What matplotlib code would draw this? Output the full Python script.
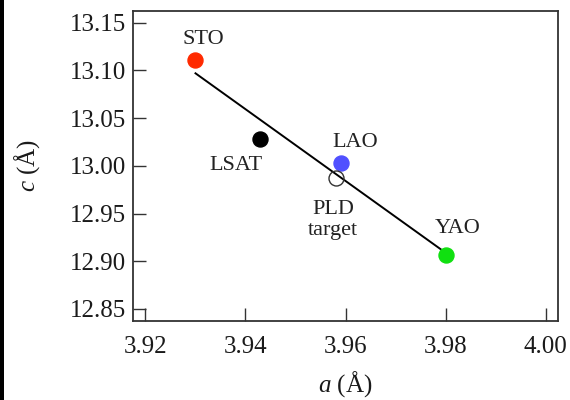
import matplotlib
matplotlib.use("Agg")
import matplotlib.pyplot as plt
from matplotlib.patches import Rectangle

plt.rcParams['font.family'] = ['Liberation Serif', 'DejaVu Serif']
plt.rcParams['mathtext.fontset'] = 'custom'
plt.rcParams['mathtext.it'] = 'Liberation Serif:italic'
plt.rcParams['mathtext.rm'] = 'Liberation Serif'

# Substrate / target lattice parameters
names = ["STO", "LSAT", "LAO", "PLD\ntarget", "YAO"]
a_vals = [3.930, 3.943, 3.959, 3.958, 3.980]
c_vals = [13.111, 13.028, 13.003, 12.987, 12.907]
face_colors = ["#ff2a00", "#000000", "#5050ff", "none", "#10e010"]
edge_colors = ["#ff2a00", "#000000", "#5050ff", "#333333", "#10e010"]

# Linear trend line
fit_a = [3.930, 3.980]
fit_c = [13.097, 12.909]

# Label anchor positions (data coordinates)
label_a = [3.9315, 3.9380, 3.9619, 3.9575, 3.9825]
label_c = [13.1329, 13.0008, 13.0246, 12.9428, 12.9345]

x_ticks = [3.92, 3.94, 3.96, 3.98, 4.00]
y_ticks = [12.85, 12.90, 12.95, 13.00, 13.05, 13.10, 13.15]

fig = plt.figure(figsize=(5.7, 4.0), dpi=100)
ax = fig.add_axes([0.2333, 0.1975, 0.979 - 0.2333, 0.9725 - 0.1975])

ax.plot(fit_a, fit_c, color="black", lw=1.4, zorder=2)
for a, c, fc, ec in zip(a_vals, c_vals, face_colors, edge_colors):
    ax.plot([a], [c], "o", ms=10.8, mfc=fc, mec=ec, mew=1.0, zorder=3)

for name, la, lc in zip(names, label_a, label_c):
    ax.text(la, lc, name, ha="center", va="center", fontsize=16,
            multialignment="center", linespacing=1.15, color="#222222")

ax.set_xlim(3.9175, 4.0025)
ax.set_ylim(12.8374, 13.1623)
ax.set_xticks(x_ticks)
ax.set_xticklabels([f"{v:.2f}" for v in x_ticks])
ax.set_yticks(y_ticks)
ax.set_yticklabels([f"{v:.2f}" for v in y_ticks])
ax.tick_params(direction="in", length=9.5, width=1.0, labelsize=18,
               color="#333333", labelcolor="#1a1a1a", pad=5)
ax.tick_params(axis="x", pad=11)
for s in ax.spines.values():
    s.set_linewidth(1.3)
    s.set_color("#333333")

ax.set_xlabel(r"$\it{a}$ (Å)", fontsize=18, color="#1a1a1a", labelpad=8)
ax.set_ylabel(r"$\it{c}$ (Å)", fontsize=18, color="#1a1a1a", labelpad=20)

# dark strip along the left edge
fig.patches.append(Rectangle((0, 0), 3.5 / 570, 1, transform=fig.transFigure,
                             facecolor="black", edgecolor="none"))

fig.savefig("out.png", dpi=100)
